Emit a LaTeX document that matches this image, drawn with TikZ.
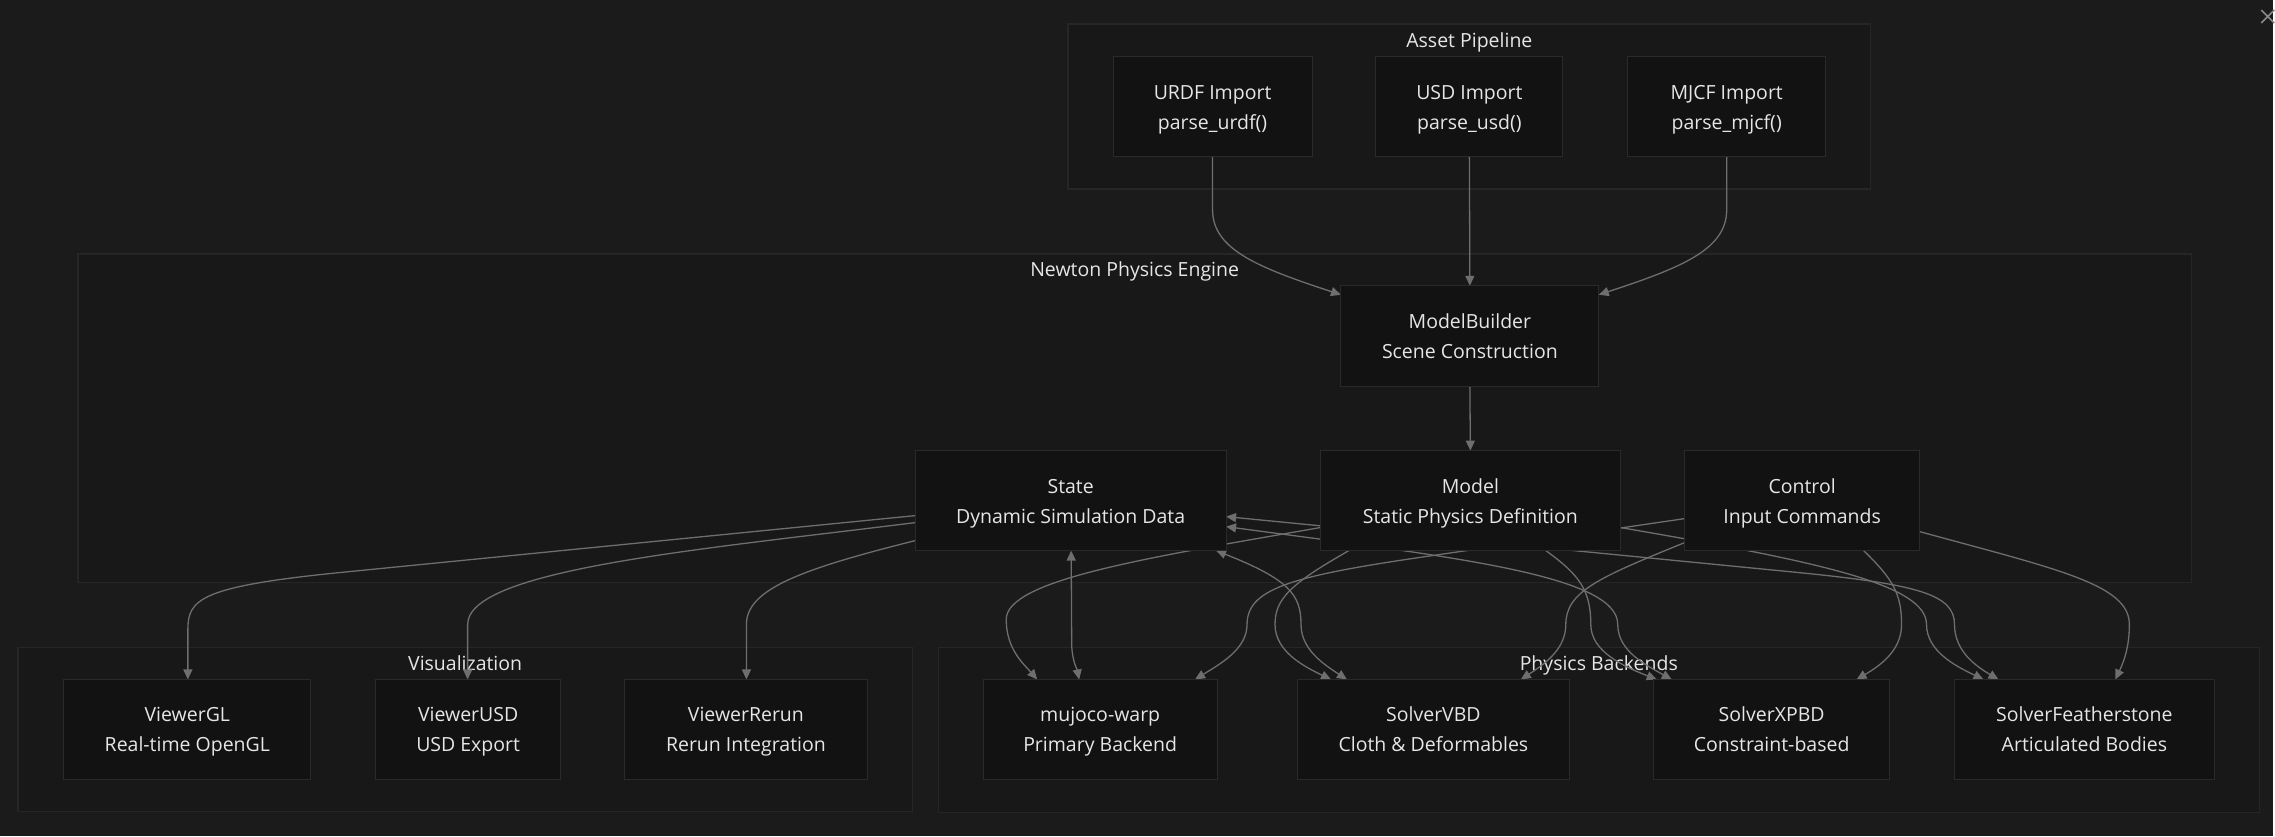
\documentclass[tikz,border=0pt]{standalone}
\usepackage{fontspec}
\setmainfont{Open Sans}
\usetikzlibrary{arrows.meta}
\pgfdeclarelayer{bglayer}
\pgfdeclarelayer{edgelayer}
\pgfsetlayers{bglayer,edgelayer,main}
\definecolor{bgcol}{HTML}{1B1B1B}
\definecolor{clfill}{HTML}{181818}
\definecolor{clborder}{HTML}{262626}
\definecolor{nodefill}{HTML}{121212}
\definecolor{nodeborder}{HTML}{2A2A2A}
\definecolor{edgecol}{HTML}{6E6E6E}
\definecolor{txtcol}{HTML}{E6E6E6}
\definecolor{xcol}{HTML}{8A8A8A}
\newcommand{\dgfont}{\fontsize{19.5}{30}\selectfont}
\newcommand{\dgstrut}{\vrule height 20pt depth 5pt width 0pt}
\tikzset{
  box/.style={draw=nodeborder, fill=nodefill, line width=1pt, inner sep=0pt, outer sep=0pt,
              text=txtcol, align=center, font=\dgfont, minimum height=100pt},
  cluster/.style={draw=clborder, fill=clfill, line width=1.5pt, inner sep=0pt, outer sep=0pt},
  ttl/.style={text=txtcol, font=\dgfont, anchor=base, inner sep=0pt},
  edge/.style={draw=edgecol, line width=1.3pt, -{Triangle[length=10pt,width=9pt]}},
  bedge/.style={draw=edgecol, line width=1.3pt, {Triangle[length=10pt,width=9pt]}-{Triangle[length=10pt,width=9pt]}},
}
\begin{document}
\begin{tikzpicture}[x=1pt,y=-1pt]
\begin{pgfonlayer}{bglayer}
\fill[bgcol] (0,0) rectangle (2275,837);
% clusters
\node[cluster, minimum width=803pt, minimum height=165pt] (asset) at (1470.5,106.5) {};
\node[cluster, minimum width=2115pt, minimum height=329pt] (newton) at (1135.5,418.5) {};
\node[cluster, minimum width=895pt, minimum height=164pt] (viz) at (465.5,730) {};
\node[cluster, minimum width=1322pt, minimum height=165pt] (phys) at (1600,730.5) {};
\node[ttl] (assetT) at (1470.5,48) {Asset Pipeline};
\node[ttl] (newtonT) at (1135.5,277) {Newton Physics Engine};
\node[ttl] (vizT) at (465.5,671) {Visualization};
\node[ttl] (physT) at (1600,671) {Physics Backends};
% close mark
\draw[xcol, line width=1.5pt] (2263,10) -- (2276,23) (2263,23) -- (2276,10);
\end{pgfonlayer}
\useasboundingbox (0,0) rectangle (2275,837);

% nodes
\node[box, minimum width=199pt] (urdf) at (1213.5,107) {\dgstrut URDF Import\\\dgstrut parse\_urdf()};
\node[box, minimum width=187pt] (usd) at (1470.5,107) {\dgstrut USD Import\\\dgstrut parse\_usd()};
\node[box, minimum width=198pt] (mjcf) at (1728,107) {\dgstrut MJCF Import\\\dgstrut parse\_mjcf()};
\node[box, minimum width=258pt, minimum height=101pt] (mb) at (1471,336.5) {\dgstrut ModelBuilder\\\dgstrut Scene Construction};
\node[box, minimum width=311pt] (st) at (1071.5,501) {\dgstrut State\\\dgstrut Dynamic Simulation Data};
\node[box, minimum width=301pt] (md) at (1471.5,501) {\dgstrut Model\\\dgstrut Static Physics Definition};
\node[box, minimum width=235pt] (ct) at (1803.5,501) {\dgstrut Control\\\dgstrut Input Commands};
\node[box, minimum width=247pt] (vgl) at (187.5,730) {\dgstrut ViewerGL\\\dgstrut Real-time OpenGL};
\node[box, minimum width=185pt] (vusd) at (468.5,730) {\dgstrut ViewerUSD\\\dgstrut USD Export};
\node[box, minimum width=243pt] (vrr) at (746.5,730) {\dgstrut ViewerRerun\\\dgstrut Rerun Integration};
\node[box, minimum width=234pt] (mj) at (1101,730) {\dgstrut mujoco-warp\\\dgstrut Primary Backend};
\node[box, minimum width=273pt] (vbd) at (1434.5,730) {\dgstrut SolverVBD\\\dgstrut Cloth \& Deformables};
\node[box, minimum width=236pt] (xp) at (1773,730) {\dgstrut SolverXPBD\\\dgstrut Constraint-based};
\node[box, minimum width=260pt] (fs) at (2086,730) {\dgstrut SolverFeatherstone\\\dgstrut Articulated Bodies};

% edges (behind nodes)
\begin{pgfonlayer}{edgelayer}
% asset pipeline -> ModelBuilder
\draw[edge] (urdf.south) -- (1213.5,210) .. controls (1213.5,250) and (1260,268) .. ([yshift=-9pt]mb.north west);
\draw[edge] (usd.south) -- (mb.north);
\draw[edge] (mjcf.south) -- (1728,210) .. controls (1728,250) and (1682,268) .. ([yshift=-9pt]mb.north east);
\draw[edge] (mb.south) -- (md.north);
% State -> viewers
\draw[edge] ([yshift=-15pt]st.west) -- (340,573) .. controls (200,587) and (188,600) .. (188,630) -- ([xshift=0.5pt]vgl.north);
\draw[edge] ([yshift=-22pt]st.west) .. controls (700,550) and (468,570) .. (468,625) -- ([xshift=-0.5pt]vusd.north);
\draw[edge] ([yshift=-40pt]st.west) .. controls (800,570) and (747,590) .. (747,625) -- ([xshift=0.5pt]vrr.north);
% State <-> solvers
\draw[bedge] ([xshift=0.5pt]st.south) -- (1072.5,645) .. controls (1073,662) and (1078,670) .. ([xshift=-21pt]mj.north);
\draw[bedge] ([xshift=-10pt]st.south east) .. controls (1290,580) and (1302,595) .. (1302,625) .. controls (1302,650) and (1325,665) .. ([xshift=-86.5pt]vbd.north);
\draw[bedge] ([yshift=-26pt]st.east) .. controls (1450,557) and (1619,575) .. (1619,625) .. controls (1619,652) and (1648,666) .. ([xshift=-100pt]xp.north);
\draw[bedge] ([yshift=-16pt]st.east) -- (1800,573) .. controls (1920,585) and (1956,595) .. (1956,625) .. controls (1956,652) and (1978,667) .. ([xshift=-86pt]fs.north);
% Model -> solvers
\draw[edge] ([yshift=-27pt]md.west) .. controls (1150,558) and (1007,580) .. (1007,620) .. controls (1007,650) and (1025,665) .. ([xshift=-63pt]mj.north);
\draw[edge] ([xshift=-121.5pt]md.south) .. controls (1290,585) and (1276,600) .. (1276,625) .. controls (1276,652) and (1305,667) .. ([xshift=-102.5pt]vbd.north);
\draw[edge] ([xshift=75.5pt]md.south) .. controls (1580,575) and (1592,590) .. (1592,625) .. controls (1592,652) and (1625,667) .. ([xshift=-115pt]xp.north);
\draw[edge] ([yshift=-27pt]md.east) .. controls (1820,562) and (1928,585) .. (1928,625) .. controls (1928,652) and (1958,667) .. ([xshift=-101pt]fs.north);
% Control -> solvers
\draw[edge] ([yshift=-18pt]ct.west) -- (1420,558) .. controls (1290,577) and (1248,590) .. (1248,625) .. controls (1248,650) and (1220,665) .. ([xshift=95pt]mj.north);
\draw[edge] ([yshift=-42pt]ct.west) .. controls (1600,578) and (1567,592) .. (1567,625) .. controls (1567,650) and (1545,665) .. ([xshift=87.5pt]vbd.north);
\draw[edge] ([xshift=61.5pt]ct.south) .. controls (1895,580) and (1903,595) .. (1903,625) .. controls (1903,652) and (1880,667) .. ([xshift=85pt]xp.north);
\draw[edge] ([yshift=-31pt]ct.east) .. controls (2060,570) and (2131,585) .. (2131,625) .. controls (2131,650) and (2124,665) .. ([xshift=31pt]fs.north);
\end{pgfonlayer}
\end{tikzpicture}
\end{document}
